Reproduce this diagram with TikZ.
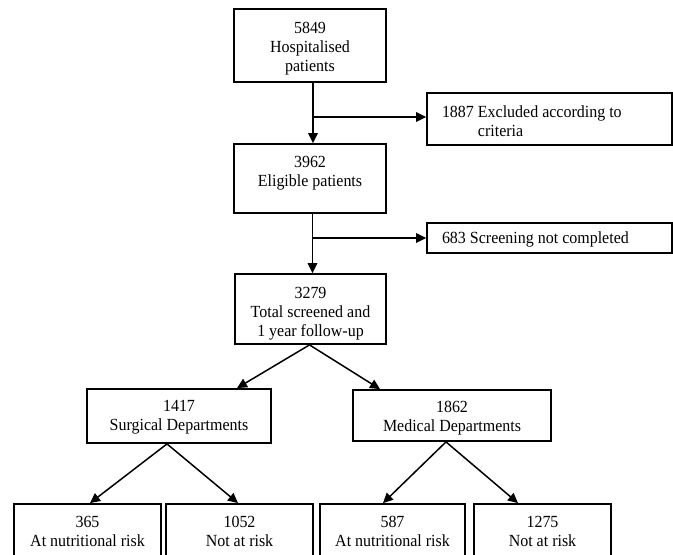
\documentclass[tikz,border=0pt]{standalone}
\usepackage{fontspec}
\setmainfont{Liberation Serif}[FakeStretch=0.94]
\usetikzlibrary{arrows.meta}
\newcommand{\hstr}[1]{\rule{0pt}{#1}}
\newcommand{\dstr}[1]{\rule[-#1]{0pt}{#1}}
\begin{document}
\begin{tikzpicture}[x=1pt,y=-1pt,
  box/.style={draw, line width=1.8pt, inner sep=0pt, align=center, font=\fontsize{17pt}{19pt}\selectfont},
  sidebox/.style={box, align=left, text width=215pt, inner xsep=15pt},
  arr/.style={line width=1.5pt, -{Triangle[length=10pt,width=9.5pt]}}]
\useasboundingbox (0,0) rectangle (673,555);
\clip (0,0) rectangle (673,555);
% main column
\node[box, minimum width=152pt, minimum height=73pt] (hosp) at (310,45.5) {\hstr{16.7pt}5849\\Hospitalised\\patients};
\node[box, minimum width=152pt, minimum height=69pt] (elig) at (310,178.5) {3962\\Eligible patients\dstr{13.5pt}};
\node[box, minimum width=151pt, minimum height=70pt] (tot) at (310.5,309) {\hstr{19.7pt}3279\\Total screened and\\1 year follow-up};
% side boxes
\node[sidebox, minimum height=52pt] (excl) at (549.5,119) {\spaceskip=0pt\xspaceskip=0pt\hstr{16.2pt}1887 Excluded according to\\\hphantom{1887}\ criteria};
\node[sidebox, minimum height=30pt] (scr) at (549.5,238) {\spaceskip=0pt\xspaceskip=0pt\hstr{14.7pt}683 Screening not completed};
% departments
\node[box, minimum width=184pt, minimum height=54pt] (surg) at (179,416) {\hstr{13.7pt}1417\\Surgical Departments};
\node[box, minimum width=198pt, minimum height=51pt] (med) at (452,415.5) {\hstr{16.7pt}1862\\Medical Departments};
% bottom row
\node[box, minimum width=147pt, minimum height=54pt] (sr) at (87.5,531) {365\\At nutritional risk};
\node[box, minimum width=147pt, minimum height=54pt] (sn) at (239.5,531) {1052\\Not at risk};
\node[box, minimum width=145pt, minimum height=54pt] (mr) at (392.5,531) {587\\At nutritional risk};
\node[box, minimum width=137pt, minimum height=54pt] (mn) at (542.5,531) {1275\\Not at risk};
% connectors
\coordinate (j1) at (313,117);
\coordinate (j2) at (312.5,238);
\draw[arr] ([xshift=3pt]hosp.south) -- ([xshift=3pt]elig.north);
\draw[arr] (j1) -- (j1 -| excl.west);
\draw[arr] ([xshift=2.5pt]elig.south) -- ([xshift=2pt]tot.north);
\draw[arr] (j2) -- (j2 -| scr.west);
\draw[arr] ([xshift=-1pt]tot.south) -- ([xshift=58pt]surg.north);
\draw[arr] ([xshift=-1pt]tot.south) -- ([xshift=-72pt]med.north);
\draw[arr] ([xshift=-12pt]surg.south) -- ([xshift=2.5pt]sr.north);
\draw[arr] ([xshift=-12pt]surg.south) -- ([xshift=-1.5pt]sn.north);
\draw[arr] ([xshift=-6pt]med.south) -- ([xshift=-9.5pt]mr.north);
\draw[arr] ([xshift=-6pt]med.south) -- ([xshift=-24.5pt]mn.north);
\end{tikzpicture}
\end{document}
